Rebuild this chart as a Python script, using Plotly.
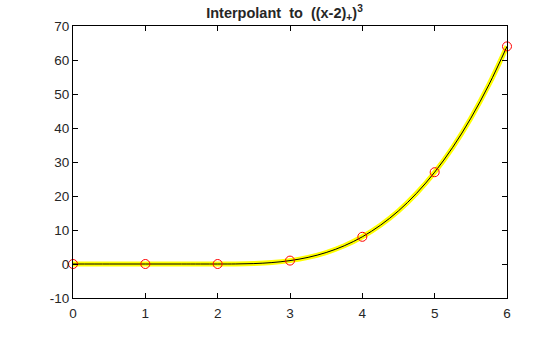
import plotly.graph_objects as go

# sample points (data nodes)
x_nodes = [0, 1, 2, 3, 4, 5, 6]
y_nodes = [0, 0, 0, 1, 8, 27, 64]

# interpolant curve
x_curve = [0, 0.5, 1, 1.5, 2, 2.25, 2.5, 2.75, 3, 3.25, 3.5, 3.75, 4,
           4.25, 4.5, 4.75, 5, 5.25, 5.5, 5.75, 6]
y_curve = [0, 0, 0, 0, 0, 0.016, 0.125, 0.42, 1, 1.95, 3.375, 5.36, 8,
           11.39, 15.63, 20.8, 27, 34.33, 42.88, 52.73, 64]

x_ticks = [0, 1, 2, 3, 4, 5, 6]
y_ticks = [-10, 0, 10, 20, 30, 40, 50, 60, 70]
y_tick_text = ["-10", "0", "10", "20", "30", "40", "50", "60", "70"]

fig = go.Figure()
fig.add_trace(go.Scatter(x=x_curve, y=y_curve, mode="lines",
                         line=dict(color="#ffff00", width=5, shape="spline"),
                         showlegend=False, hoverinfo="skip"))
fig.add_trace(go.Scatter(x=x_curve, y=y_curve, mode="lines",
                         line=dict(color="black", width=1, shape="spline"),
                         showlegend=False))
fig.add_trace(go.Scatter(x=x_nodes, y=y_nodes, mode="markers",
                         marker=dict(symbol="circle-open", size=9,
                                     color="#ff0000", line=dict(width=1)),
                         showlegend=False, cliponaxis=False))

axis_common = dict(showgrid=False, zeroline=False, showline=True,
                   linecolor="black", linewidth=1, mirror="ticks",
                   ticks="inside", ticklen=5, tickcolor="black",
                   tickfont=dict(family="Liberation Sans, Arial", size=13.5, color="#262626"))

fig.update_layout(
    width=560, height=337,
    margin=dict(l=73, r=53, t=26, b=39),
    paper_bgcolor="white", plot_bgcolor="white",
    title=dict(text="Interpolant  to  ((x-2)<sub>+</sub>)<sup>3</sup>",
               x=0.508, xanchor="center", y=0.962, yanchor="middle",
               font=dict(family="Liberation Sans, Arial", size=14.5, color="#262626",
                         weight="bold")),
    xaxis=dict(range=[0, 6], tickvals=x_ticks, ticklabelstandoff=3, **axis_common),
    yaxis=dict(range=[-10, 70], tickvals=y_ticks, ticktext=y_tick_text, **axis_common),
)

fig.write_html("out.html")
